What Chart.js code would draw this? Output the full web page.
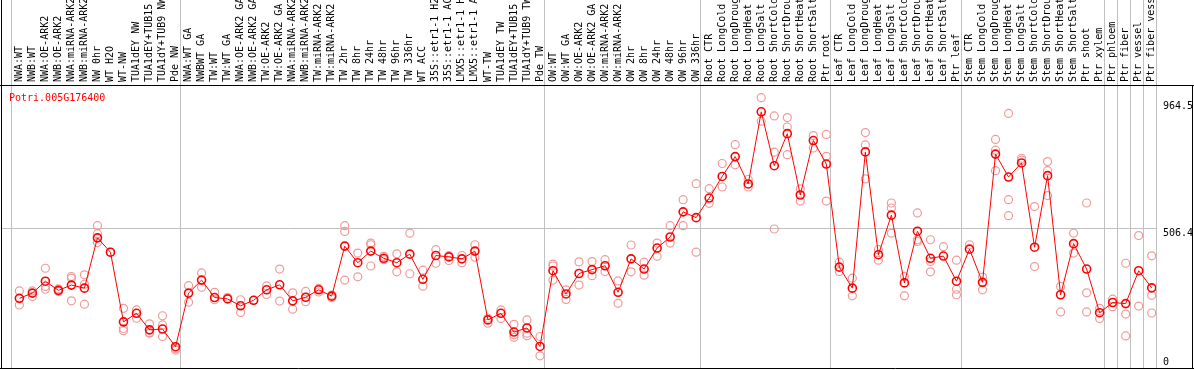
<!DOCTYPE html>
<html>
<head>
<meta charset="utf-8">
<script src="https://cdn.jsdelivr.net/npm/chart.js@4"></script>
<style>
  html, body { margin: 0; padding: 0; background: #fff; }
  canvas { display: block; }
</style>
</head>
<body>
<canvas id="myChart" width="1194" height="370"></canvas>
<script>
const geneName = 'Potri.005G176400';

const categories = [
  'NWA:WT', 'NWB:WT', 'NWA:OE-ARK2', 'NWB:OE-ARK2', 'NWA:miRNA-ARK2', 'NWB:miRNA-ARK2',
  'NW 0hr', 'WT H2O', 'WT-NW', 'TUA1dEY NW', 'TUA1dEY+TUB15', 'TUA1dY+TUB9 NW', 'Pde NW',
  'NWA:WT GA', 'NWBWT GA', 'TW:WT', 'TW:WT GA', 'NWA:OE-ARK2 GA', 'NWB:OE-ARK2 GA',
  'TW:OE-ARK2', 'TW:OE-ARK2 GA', 'NWA:miRNA-ARK2', 'NWB:miRNA-ARK2', 'TW:miRNA-ARK2',
  'TW:miRNA-ARK2', 'TW 2hr', 'TW 8hr', 'TW 24hr', 'TW 48hr', 'TW 96hr', 'TW 336hr', 'WT ACC',
  '35S::etr1-1 H2O', '35S::etr1-1 ACC', 'LMX5::etr1-1 H2O', 'LMX5::etr1-1 ACC', 'WT-TW',
  'TUA1dEY TW', 'TUA1dEY+TUB15', 'TUA1dY+TUB9 TW', 'Pde TW',
  'OW:WT', 'OW:WT GA', 'OW:OE-ARK2', 'OW:OE-ARK2 GA', 'OW:miRNA-ARK2', 'OW:miRNA-ARK2',
  'OW 2hr', 'OW 8hr', 'OW 24hr', 'OW 48hr', 'OW 96hr', 'OW 336hr',
  'Root CTR', 'Root LongCold', 'Root LongDrought', 'Root LongHeat', 'Root LongSalt',
  'Root ShortCold', 'Root ShortDrought', 'Root ShortHeat', 'Root ShortSalt', 'Ptr root',
  'Leaf CTR', 'Leaf LongCold', 'Leaf LongDrought', 'Leaf LongHeat', 'Leaf LongSalt',
  'Leaf ShortCold', 'Leaf ShortDrought', 'Leaf ShortHeat', 'Leaf ShortSalt', 'Ptr leaf',
  'Stem CTR', 'Stem LongCold', 'Stem LongDrought', 'Stem LongHeat', 'Stem LongSalt',
  'Stem ShortCold', 'Stem ShortDrought', 'Stem ShortHeat', 'Stem ShortSalt', 'Ptr shoot',
  'Ptr xylem', 'Ptr phloem', 'Ptr fiber', 'Ptr vessel', 'Ptr fiber vessel'
];

// index where each sample group starts (grey separators)
const groupStarts = [0, 13, 41, 53, 63, 73, 84, 85, 86, 87, 88];

const means = [
  252, 271, 314, 281, 300, 289, 471, 419, 167, 198, 138, 141, 77,
  271, 318, 255, 250, 225, 245, 283, 301, 243, 256, 283, 260, 441, 381, 423, 397, 381,
  412, 321, 407, 402, 395, 423, 174, 198, 130, 145, 78,
  352, 268, 342, 356, 370, 274, 395, 358, 434, 474, 565, 544,
  615, 693, 765, 666, 927, 732, 848, 626, 823, 738,
  365, 289, 782, 410, 553, 308, 495, 397, 405, 314,
  430, 310, 774, 691, 742, 437, 696, 265, 450, 358, 200,
  237, 233, 352, 290
];

const replicates = [
  [279, 228], [279, 259], [361, 285, 295], [286, 277], [331, 325, 243], [337, 303, 231],
  [515, 486, 454], [419], [216, 143, 135], [210, 180], [160, 126, 128], [189, 156, 114], [71, 65],
  [298, 238], [344, 292], [274, 247], [256], [247, 201], [245], [297, 266], [358, 242],
  [272, 213], [277, 240], [288, 275], [264, 255], [515, 494, 318], [416, 330], [452, 446, 369],
  [404, 392], [413, 348], [488, 341], [354, 296], [428, 379], [407, 389], [407, 381], [446, 401],
  [180, 162], [210, 179], [158, 120, 111], [174, 126, 117], [114, 44],
  [376, 369, 318], [283, 248], [384, 300], [385, 334], [392, 349], [315, 234], [445, 348],
  [383, 336], [452, 404], [515, 452], [609, 515], [667, 419],
  [649, 596], [740, 655], [808, 735], [682, 655], [978, 893], [912, 781, 503], [906, 872, 772],
  [648, 604], [841, 796], [845, 766, 604],
  [383, 349], [325, 261], [852, 807, 684], [428, 390], [597, 579, 488], [331, 261],
  [561, 464, 458], [464, 385, 348], [439], [390, 285, 265],
  [446], [329, 283], [827, 788, 714], [921, 609, 551], [759, 752], [584, 367], [747, 714, 624],
  [295, 203], [488, 416], [597, 272, 203], [216, 179],
  [249, 222], [379, 195, 116], [479, 224], [406, 263, 199]
];

const yTicks = [0, 506.4, 964.5];
const yTickLabels = ['0', '506.4', '964.5'];

const monoFont = { family: "'DejaVu Sans Mono', monospace", size: 10 };

const meanPoints = means.map((v, i) => ({ x: i, y: v }));
const repPoints = [];
replicates.forEach((list, i) => list.forEach(v => repPoints.push({ x: i, y: v })));

function noPadding(s) {
  s.paddingLeft = 0;
  s.paddingRight = 0;
  s.paddingTop = 0;
  s.paddingBottom = 0;
}

const framePlugin = {
  id: 'frame',
  beforeDatasetsDraw(chart) {
    const { ctx, chartArea, scales } = chart;
    ctx.save();
    ctx.strokeStyle = '#c0c0c0';
    ctx.lineWidth = 1;
    groupStarts.forEach(b => {
      const x = Math.round(scales.x.getPixelForValue(b - 0.68)) + 0.5;
      ctx.beginPath();
      ctx.moveTo(x, 0);
      ctx.lineTo(x, chartArea.bottom);
      ctx.stroke();
    });
    ctx.fillStyle = '#ff0000';
    ctx.font = "10px 'DejaVu Sans Mono', monospace";
    ctx.textBaseline = 'middle';
    ctx.fillText(geneName, 9, chartArea.top + 13);
    ctx.restore();
  },
  afterDraw(chart) {
    const { ctx, chartArea, width } = chart;
    ctx.save();
    ctx.strokeStyle = '#000';
    ctx.lineWidth = 1;
    ctx.beginPath();
    ctx.moveTo(0, chartArea.top + 0.5);
    ctx.lineTo(width, chartArea.top + 0.5);
    ctx.moveTo(0, chartArea.bottom + 0.5);
    ctx.lineTo(width, chartArea.bottom + 0.5);
    ctx.moveTo(1.5, 0);
    ctx.lineTo(1.5, chartArea.bottom);
    ctx.moveTo(width - 1.5, chartArea.top);
    ctx.lineTo(width - 1.5, chartArea.bottom);
    ctx.stroke();
    ctx.restore();
  }
};

new Chart(document.getElementById('myChart'), {
  data: {
    datasets: [
      {
        type: 'line',
        data: meanPoints,
        borderColor: '#ff0000',
        borderWidth: 1,
        pointRadius: 4,
        pointBorderWidth: 1.6,
        pointBorderColor: '#ff0000',
        pointBackgroundColor: 'rgba(0,0,0,0)',
        tension: 0
      },
      {
        type: 'scatter',
        data: repPoints,
        showLine: false,
        pointRadius: 4,
        pointBorderWidth: 1.2,
        pointBorderColor: '#f09a9a',
        pointBackgroundColor: 'rgba(0,0,0,0)'
      }
    ]
  },
  options: {
    responsive: false,
    animation: false,
    layout: { autoPadding: false, padding: { left: 1, right: 0, top: 0, bottom: 2 } },
    plugins: { legend: { display: false }, tooltip: { enabled: false } },
    scales: {
      x: {
        type: 'linear',
        position: 'top',
        min: -1.41,
        max: 87.33,
        afterBuildTicks: s => { s.ticks = categories.map((_, i) => ({ value: i })); },
        afterFit: s => { s.height = 85; noPadding(s); },
        grid: { display: false, drawTicks: false },
        border: { display: false },
        ticks: {
          autoSkip: false,
          minRotation: 90,
          maxRotation: 90,
          padding: 3,
          labelOffset: 12,
          color: '#000',
          font: monoFont,
          callback: v => categories[v]
        }
      },
      y: {
        position: 'right',
        min: 0,
        max: 1024,
        afterBuildTicks: s => { s.ticks = yTicks.map(v => ({ value: v })); },
        afterFit: s => { s.width = 0; noPadding(s); },
        grid: {
          drawTicks: false,
          color: c => (c.tick && c.tick.value === 506.4 ? '#c0c0c0' : 'rgba(0,0,0,0)')
        },
        border: { display: false },
        ticks: { display: false }
      },
      yLabels: {
        position: 'right',
        min: 0,
        max: 1024,
        // labels sit just under their value, the 0 one kept inside the frame
        afterBuildTicks: s => { s.ticks = yTicks.map(v => ({ value: Math.max(v - 18, 19) })); },
        afterFit: s => { s.width = 38; noPadding(s); },
        grid: { display: false, drawTicks: false },
        border: { display: false },
        ticks: {
          padding: 7,
          color: '#000',
          font: monoFont,
          callback: (v, i) => yTickLabels[i]
        }
      }
    }
  },
  plugins: [framePlugin]
});
</script>
</body>
</html>
